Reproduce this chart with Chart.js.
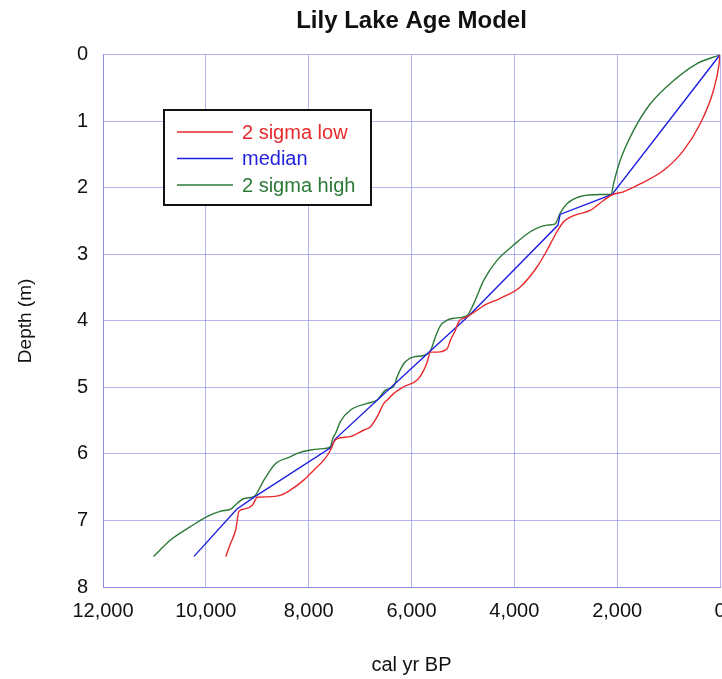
<!DOCTYPE html>
<html>
<head>
<meta charset="utf-8">
<script src="https://cdn.jsdelivr.net/npm/chart.js@4.4.1/dist/chart.umd.min.js"></script>
<style>
  body { margin: 0; overflow: hidden; background: #fff; }
  #wrap { width: 740px; height: 679px; }
</style>
</head>
<body>
<div id="wrap"><canvas id="ageChart" width="740" height="679"></canvas></div>
<script>
// tick labels
const ageTicks = [0, 2000, 4000, 6000, 8000, 10000, 12000];
const depthTicks = [0, 1, 2, 3, 4, 5, 6, 7, 8];

// 2 sigma low (red)
const lowAge = [0, 20, 129, 388, 712, 1101, 1554, 1878, 2090, 2266, 2525, 2783, 2913, 3042, 3171, 3366, 3560, 3884, 4272, 4596, 4725, 4920, 5082, 5146, 5243, 5308, 5502, 5632, 5696, 5761, 5890, 6149, 6344, 6473, 6538, 6667, 6797, 6926, 7186, 7444, 7509, 7574, 7703, 7897, 8091, 8351, 8545, 8800, 8998, 9095, 9257, 9354, 9419, 9516, 9613];
const lowDepth = [0, 0.15, 0.54, 1.04, 1.44, 1.74, 1.94, 2.06, 2.10, 2.19, 2.34, 2.40, 2.44, 2.51, 2.66, 2.94, 3.19, 3.49, 3.66, 3.77, 3.84, 3.94, 4.01, 4.14, 4.29, 4.42, 4.47, 4.47, 4.62, 4.74, 4.89, 4.99, 5.09, 5.19, 5.24, 5.44, 5.59, 5.64, 5.74, 5.77, 5.82, 5.94, 6.09, 6.24, 6.39, 6.54, 6.62, 6.645, 6.65, 6.77, 6.83, 6.86, 7.14, 7.34, 7.54];

// median (blue)
const medAge = [0, 2100, 3110, 3150, 4880, 5630, 7490, 7560, 9060, 9400, 10230];
const medDepth = [0, 2.10, 2.40, 2.56, 3.92, 4.45, 5.78, 5.90, 6.65, 6.83, 7.54];

// 2 sigma high (green)
const highAge = [0, 453, 907, 1359, 1683, 1942, 2071, 2117, 2330, 2719, 2977, 3107, 3204, 3366, 3690, 4014, 4337, 4596, 4790, 4920, 5179, 5308, 5437, 5534, 5632, 5761, 5955, 6149, 6279, 6344, 6505, 6667, 6861, 7186, 7380, 7477, 7541, 7574, 7703, 7962, 8221, 8351, 8652, 8868, 9063, 9257, 9387, 9516, 9710, 9969, 10293, 10681, 11017];
const highDepth = [0, 0.135, 0.39, 0.74, 1.14, 1.59, 1.94, 2.10, 2.10, 2.13, 2.24, 2.38, 2.54, 2.56, 2.66, 2.86, 3.09, 3.39, 3.74, 3.92, 3.96, 3.99, 4.07, 4.24, 4.45, 4.52, 4.54, 4.64, 4.84, 4.98, 5.04, 5.19, 5.24, 5.34, 5.51, 5.69, 5.79, 5.89, 5.92, 5.94, 5.99, 6.04, 6.15, 6.39, 6.64, 6.67, 6.74, 6.83, 6.86, 6.94, 7.09, 7.29, 7.54];

const toPoints = (xs, ys) => xs.map((x, i) => ({ x: x, y: ys[i] }));

const FONT = '"Liberation Sans", Arial, sans-serif';

// legend drawn inside the plot, like the original
const legendBox = {
  id: 'legendBox',
  beforeDatasetsDraw(chart) {
    const ctx = chart.ctx;
    ctx.save();
    ctx.fillStyle = '#fff';
    ctx.fillRect(164, 110, 207, 95);
    ctx.strokeStyle = '#111';
    ctx.lineWidth = 2;
    ctx.strokeRect(164, 110, 207, 95);
    ctx.font = '20px ' + FONT;
    ctx.textBaseline = 'middle';
    chart.data.datasets.forEach((ds, i) => {
      const y = 132 + i * 26.5;
      ctx.strokeStyle = ds.borderColor;
      ctx.lineWidth = 1.3;
      ctx.beginPath();
      ctx.moveTo(177, y);
      ctx.lineTo(233, y);
      ctx.stroke();
      ctx.fillStyle = ds.borderColor;
      ctx.fillText(ds.label, 242, y + 1);
    });
    ctx.restore();
  }
};

const ctx = document.getElementById('ageChart').getContext('2d');
new Chart(ctx, {
  type: 'scatter',
  data: {
    datasets: [
      {
        label: '2 sigma low',
        data: toPoints(lowAge, lowDepth),
        borderColor: '#e8292b',
        cubicInterpolationMode: 'monotone',
      },
      {
        label: 'median',
        data: toPoints(medAge, medDepth),
        borderColor: '#1f1fe0',
        tension: 0,
      },
      {
        label: '2 sigma high',
        data: toPoints(highAge, highDepth),
        borderColor: '#2b7a37',
        cubicInterpolationMode: 'monotone',
      },
    ],
  },
  options: {
    responsive: false,
    animation: false,
    showLine: true,
    elements: {
      point: { radius: 0, hoverRadius: 0 },
      line: { borderWidth: 1.4, fill: false },
    },
    layout: { padding: { top: 0, right: 20, bottom: 0, left: 0 } },
    scales: {
      x: {
        type: 'linear',
        reverse: true,
        min: 0,
        max: 12000,
        afterBuildTicks: (scale) => { scale.ticks = ageTicks.map(v => ({ value: v })); },
        afterFit: (scale) => { scale.height = 92; },
        grid: { color: 'rgba(120,120,225,0.55)', drawTicks: false },
        border: { color: '#8c8ce0', width: 1 },
        ticks: { color: '#111', font: { family: FONT, size: 20 }, padding: 12, maxRotation: 0 },
        title: { display: true, text: 'cal yr BP', color: '#111', font: { family: FONT, size: 20 }, padding: { bottom: 2 } },
      },
      y: {
        type: 'linear',
        reverse: true,
        min: 0,
        max: 8,
        afterBuildTicks: (scale) => { scale.ticks = depthTicks.map(v => ({ value: v })); },
        afterFit: (scale) => { scale.width = 103; },
        grid: { color: 'rgba(120,120,225,0.55)', drawTicks: false },
        border: { color: '#8c8ce0', width: 1 },
        ticks: { color: '#111', font: { family: FONT, size: 20 }, padding: 15 },
        title: { display: true, text: 'Depth (m)', color: '#111', font: { family: FONT, size: 19 }, padding: { top: 14 } },
      },
    },
    plugins: {
      legend: { display: false },
      tooltip: { enabled: false },
      title: {
        display: true,
        fullSize: false,
        text: 'Lily Lake Age Model',
        color: '#111',
        font: { family: FONT, size: 24, weight: 'bold' },
        padding: { top: 7, bottom: 19 },
      },
    },
  },
  plugins: [legendBox],
});
</script>
</body>
</html>
